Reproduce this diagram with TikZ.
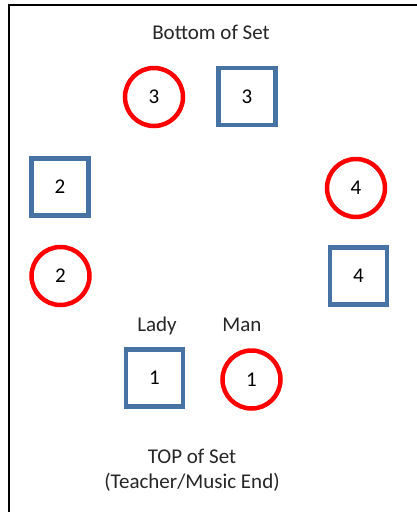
\documentclass[tikz,border=0pt]{standalone}
\usepackage{fontspec}
\setmainfont{Carlito}
\definecolor{sqblue}{RGB}{70,114,164}
\definecolor{crred}{RGB}{255,0,0}
\tikzset{
  man/.style={circle, draw=crred, line width=4.5pt, minimum size=58pt, inner sep=0pt, font=\fontsize{21}{25}\selectfont},
  lady/.style={rectangle, draw=sqblue, line width=4.5pt, minimum size=57pt, inner sep=0pt, font=\fontsize{21}{25}\selectfont},
  lbl/.style={inner sep=0pt, anchor=base, font=\fontsize{21}{25}\selectfont, text=black!85},
  frame/.style={line width=2pt, black}
}
\begin{document}
\begin{tikzpicture}[x=1pt,y=-1pt]
\useasboundingbox (0,0) rectangle (417,512);
\fill[white] (0,0) rectangle (417,512);
\coordinate (tl) at (8.5,5);
\coordinate (tr) at (417,5);
\coordinate (bl) at (8.5,512);
\draw[frame] (tr) -- (tl) -- (bl);

\node[lbl] (bottom) at (211,39) {Bottom of Set};
\node[man] (m3) at (154,97) {3};
\node[lady] (l3) at (247,96.5) {3};
\node[lady] (l2) at (60,187) {2};
\node[man] (m4) at (356,188) {4};
\node[man] (m2) at (60.5,276) {2};
\node[lady] (l4) at (358.5,276) {4};
\node[lbl] (ladylbl) at (157,331) {Lady};
\node[lbl] (manlbl) at (242,331) {Man};
\node[lady] (l1) at (154.5,378) {1};
\node[man] (m1) at (251.5,379.5) {1};
\node[lbl] (top) at (192,463) {TOP of Set};
\node[lbl] (teacher) at (192,488) {(Teacher/Music End)};
\end{tikzpicture}
\end{document}
